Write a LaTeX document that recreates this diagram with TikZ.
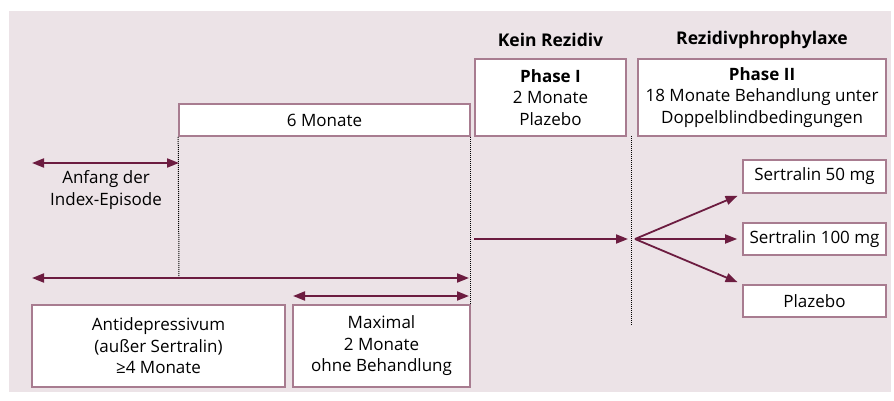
\documentclass[tikz,border=0pt]{standalone}
\usepackage{fontspec}
\setmainfont{Open Sans}
\usepackage{tikz}
\usetikzlibrary{arrows.meta}
\definecolor{arrowred}{RGB}{108,28,64}
\definecolor{boxline}{RGB}{168,124,144}
\definecolor{panel}{RGB}{236,227,231}

\begin{document}
\begin{tikzpicture}[x=1pt,y=-1pt]
            \tikzset{box/.style = {draw=boxline,line width=1.6pt,fill=white,inner sep=0pt,align=center,font=\fontsize{17}{21.5}\selectfont}}
            \tikzset{edge/.style = {arrowred,line width=1.8pt,-{Triangle[length=12pt,width=9pt]}}}
            \tikzset{twoedge/.style = {arrowred,line width=1.8pt,{Triangle[length=12pt,width=9pt]}-{Triangle[length=12pt,width=9pt]}}}
            \tikzset{border/.style = {densely dotted,line width=1pt}}
            \tikzset{label/.style = {align=center,inner sep=0pt,font=\fontsize{17}{21.5}\selectfont}}
            \tikzset{heading/.style = {inner sep=0pt,font=\fontsize{17.5}{21.5}\selectfont\bfseries}}

            \useasboundingbox (0,0) rectangle (894,401);
            \fill[panel] (9,11) rectangle (891,392);

            % top boxes
            \node[box,minimum width=291pt,minimum height=32pt] (six) at (324.5,120) {6 Monate};
            \node[heading] (kein) at (550.5,40) {Kein Rezidiv};
            \node[heading] (prophy) at (762,40) {Rezidivphrophylaxe};
            \node[box,minimum width=151pt,minimum height=77pt] (phaseI) at (550.5,97.5) {\textbf{Phase I}\\2 Monate\\Plazebo};
            \node[box,minimum width=248pt,minimum height=77pt] (phaseII) at (762,97.5) {\textbf{Phase II}\\18 Monate Behandlung unter\\Doppelblindbedingungen};

            % bottom boxes
            \node[box,minimum width=253pt,minimum height=82pt] (antidep) at (158.5,346) {Antidepressivum\\(außer Sertralin)\\≥4 Monate};
            \node[box,minimum width=177pt,minimum height=82pt] (maximal) at (381.5,346) {Maximal\\2 Monate\\ohne Behandlung};

            % right boxes
            \node[box,minimum width=143pt,minimum height=33pt] (sert50) at (814.5,176.5) {Sertralin 50 mg};
            \node[box,minimum width=143pt,minimum height=32pt] (sert100) at (814.5,239) {Sertralin 100 mg};
            \node[box,minimum width=143pt,minimum height=32pt] (plazebo) at (814.5,301) {Plazebo};

            % timeline points
            \coordinate (a1) at (32,163);
            \coordinate (a2) at (179,163);
            \coordinate (l1) at (32,278);
            \coordinate (l2) at (469,278);
            \coordinate (m1) at (293,296);
            \coordinate (m2) at (469,296);
            \coordinate (p1) at (631,136);
            \coordinate (p2) at (631,326);
            \coordinate (h1) at (474,239);
            \coordinate (h2) at (628,239);
            \coordinate (fan) at (635,239);
            \coordinate (d1) at (179,278);

            \node[label] (anfang) at (106,190) {Anfang der\\Index-Episode};

            % dotted borders
            \draw[border] (six.south west) -- (d1);
            \draw[border] (six.south east) -- (maximal.north east);
            \draw[border] (p1) -- (p2);

            % arrows
            \draw[twoedge] (a1) -- (a2);
            \draw[twoedge] (l1) -- (l2);
            \draw[twoedge] (m1) -- (m2);
            \draw[edge] (h1) -- (h2);
            \draw[edge,shorten >=5pt] (fan) -- (sert50.south west);
            \draw[edge,shorten >=5pt] (fan) -- (sert100.west);
            \draw[edge,shorten >=5pt] (fan) -- (plazebo.north west);

\end{tikzpicture}
\end{document}
